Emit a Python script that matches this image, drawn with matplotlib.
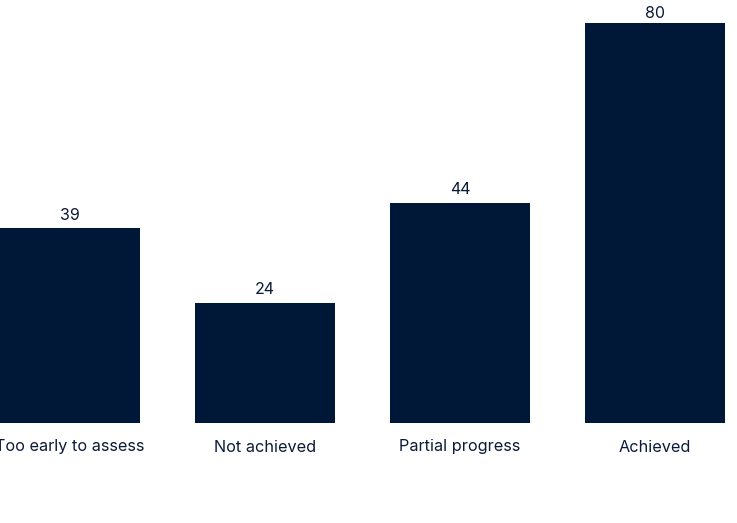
import matplotlib.pyplot as plt

# data
categories = ['Too early to assess', 'Not achieved', 'Partial progress', 'Achieved']
values = [39, 24, 44, 80]

BAR_COLOR = '#001838'
TEXT_COLOR = '#0b1a36'

plt.rcParams['font.family'] = ['Inter', 'DejaVu Sans']

fig = plt.figure(figsize=(7.37, 5.23), dpi=100)
ax = fig.add_axes([0, 0, 1, 1])

ymax = 84.6
x = list(range(len(categories)))
bars = ax.bar(x, values, width=0.718, color=BAR_COLOR, edgecolor='none')

# value labels, kept inside the top edge
for xi, v in zip(x, values):
    ax.text(xi, min(v + 2.6, ymax - 2.8), str(v), ha='center', va='center',
            fontsize=11.5, color=TEXT_COLOR)
for xi, lab in zip(x, categories):
    ax.text(xi, -4.8, lab, ha='center', va='center',
            fontsize=11.7, color=TEXT_COLOR)

ax.set_xlim(-0.359, 3.420)
ax.set_ylim(-20, ymax)
ax.axis('off')

fig.savefig('out.png', dpi=100)
